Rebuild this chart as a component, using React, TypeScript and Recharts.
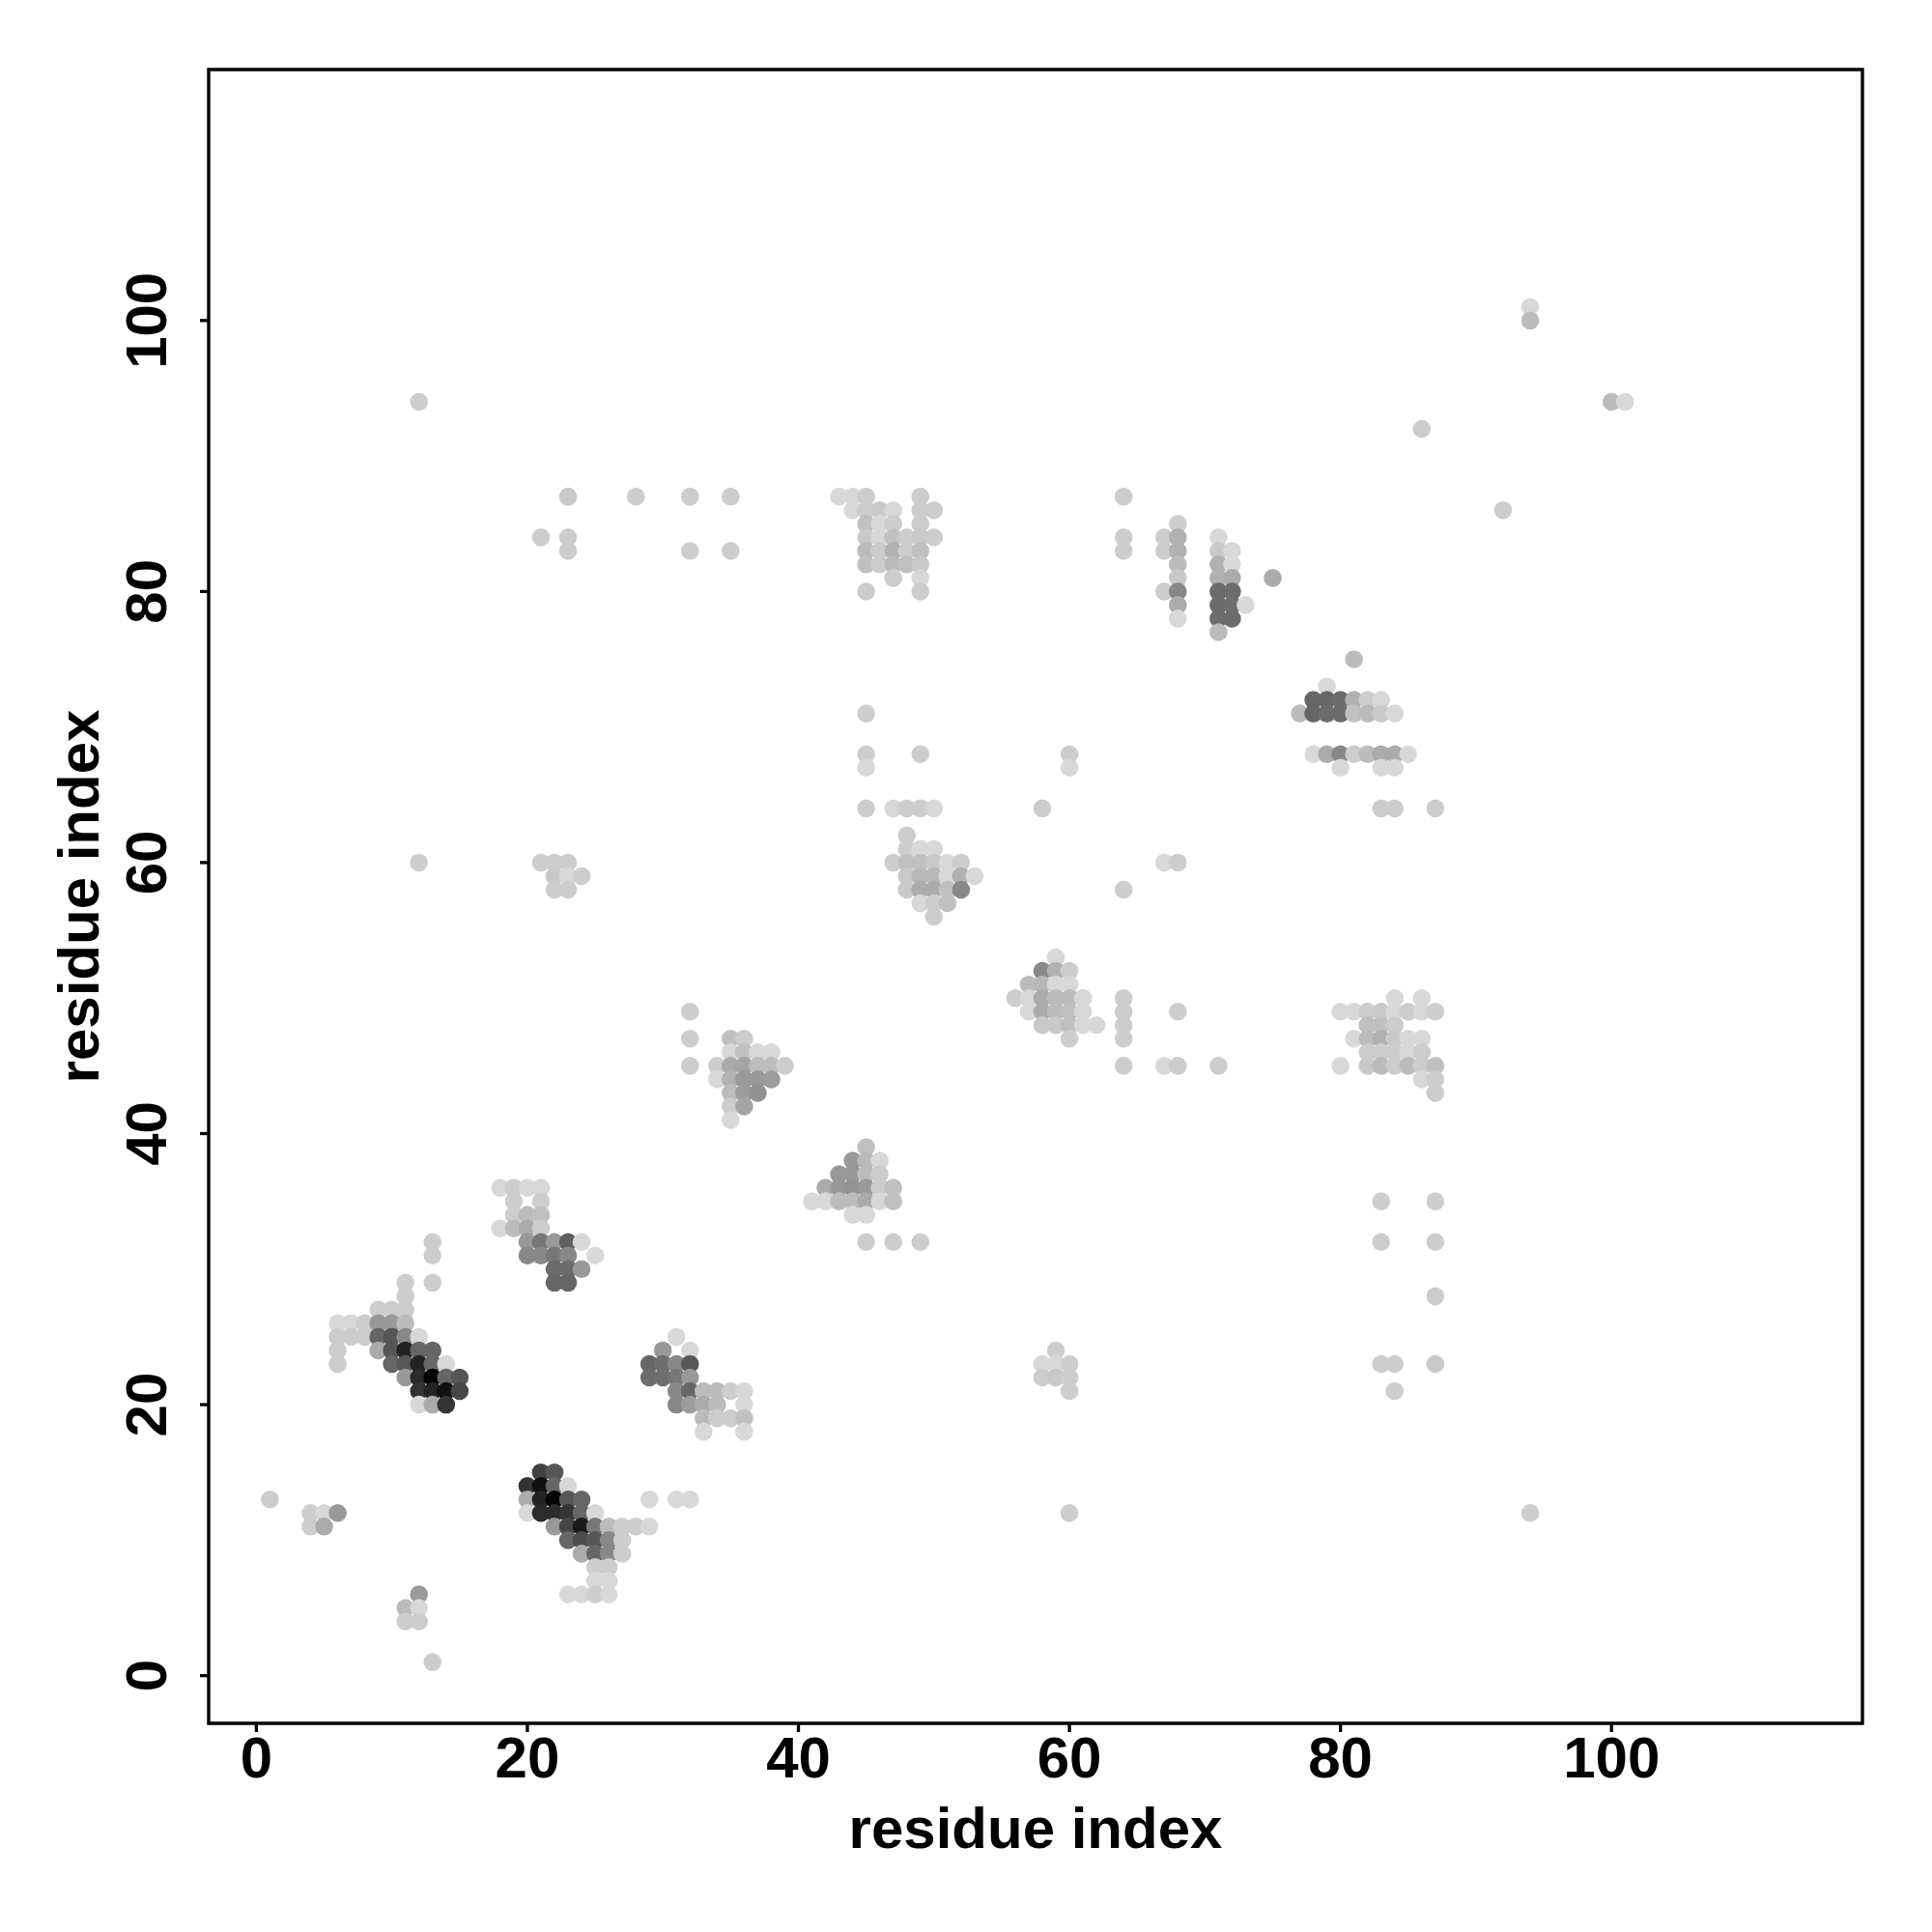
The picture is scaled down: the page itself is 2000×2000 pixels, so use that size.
import React from 'react';
import { ScatterChart, Scatter, XAxis, YAxis, ReferenceArea } from 'recharts';

// contact frequencies: [residue i, residue j, frequency]
type Pt = [number, number, number];

const isolatedLow: Pt[] = [
  [1, 13, 0.05], [4, 12, 0.05], [5, 12, 0], [6, 12, 0.29], [4, 11, 0.05], [5, 11, 0.21],
  [12, 6, 0.29], [11, 5, 0.13], [12, 5, 0], [11, 4, 0.05], [12, 4, 0.05], [13, 1, 0.05],
];

const helixA: Pt[] = [
  [13, 32, 0.05], [13, 31, 0.05], [11, 29, 0.05], [13, 29, 0.05], [11, 28, 0.05],
  [9, 27, 0.05], [10, 27, 0.05], [11, 27, 0.05],
  [6, 26, 0], [7, 26, 0], [8, 26, 0.05], [9, 26, 0.29], [10, 26, 0.29], [11, 26, 0.13],
  [6, 25, 0.05], [7, 25, 0.05], [8, 25, 0.05], [9, 25, 0.53], [10, 25, 0.6], [11, 25, 0.37], [12, 25, 0],
  [6, 24, 0.05], [9, 24, 0.21], [10, 24, 0.6], [11, 24, 0.84], [12, 24, 0.53], [13, 24, 0.53],
  [6, 23, 0.05], [10, 23, 0.53], [11, 23, 0.6], [12, 23, 0.84], [13, 23, 0.53], [14, 23, 0],
  [11, 22, 0.29], [12, 22, 0.8], [13, 22, 0.98], [14, 22, 0.53], [15, 22, 0.6],
  [12, 21, 0.76], [13, 21, 0.84], [14, 21, 0.92], [15, 21, 0.68],
  [12, 20, 0], [13, 20, 0.21], [14, 20, 0.76],
];

const block20x32: Pt[] = [
  [18, 36, 0], [19, 36, 0.05], [20, 36, 0], [21, 36, 0],
  [19, 35, 0.05], [21, 35, 0.05],
  [19, 34, 0.05], [20, 34, 0.13], [21, 34, 0.11],
  [18, 33, 0], [19, 33, 0.13], [20, 33, 0.21], [21, 33, 0.05],
  [20, 32, 0.29], [21, 32, 0.45], [22, 32, 0.29], [23, 32, 0.55], [24, 32, 0],
  [20, 31, 0.37], [21, 31, 0.37], [22, 31, 0.45], [23, 31, 0.37], [25, 31, 0],
  [22, 30, 0.5], [23, 30, 0.5], [24, 30, 0.29],
  [22, 29, 0.53], [23, 29, 0.53],
];

const block31x22: Pt[] = [
  [31, 25, 0], [30, 24, 0.29], [32, 24, 0],
  [29, 23, 0.53], [30, 23, 0.49], [31, 23, 0.37], [32, 23, 0.6],
  [29, 22, 0.5], [30, 22, 0.49], [31, 22, 0.45], [32, 22, 0.29],
  [31, 21, 0.37], [32, 21, 0.53], [33, 21, 0.13], [34, 21, 0.13], [35, 21, 0.05], [36, 21, 0],
  [31, 20, 0.37], [32, 20, 0.28], [33, 20, 0.21], [34, 20, 0.13], [36, 20, 0],
  [33, 19, 0.13], [34, 19, 0.05], [35, 19, 0.05], [36, 19, 0.11],
  [33, 18, 0], [36, 18, 0],
];

const strandPair: Pt[] = [
  [21, 15, 0.7], [22, 15, 0.6],
  [20, 14, 0.76], [21, 14, 0.92], [22, 14, 0.53], [23, 14, 0],
  [20, 13, 0.21], [21, 13, 0.84], [22, 13, 0.98], [23, 13, 0.6], [24, 13, 0.53],
  [29, 13, 0], [31, 13, 0], [32, 13, 0],
  [20, 12, 0], [21, 12, 0.8], [22, 12, 0.8], [23, 12, 0.76], [24, 12, 0.53], [25, 12, 0],
  [22, 11, 0.29], [23, 11, 0.68], [24, 11, 0.88], [25, 11, 0.45], [26, 11, 0.13], [27, 11, 0.05], [28, 11, 0.05], [29, 11, 0],
  [23, 10, 0.53], [24, 10, 0.65], [25, 10, 0.6], [26, 10, 0.37], [27, 10, 0.05],
  [24, 9, 0.21], [25, 9, 0.53], [26, 9, 0.37], [27, 9, 0.05],
  [25, 8, 0.05], [26, 8, 0.05],
  [25, 7, 0], [26, 7, 0],
  [23, 6, 0], [24, 6, 0], [25, 6, 0.05], [26, 6, 0],
];

const block36x45: Pt[] = [
  [32, 49, 0.05], [32, 47, 0.05], [32, 45, 0.05],
  [35, 47, 0.11], [36, 47, 0.05],
  [35, 46, 0], [36, 46, 0.11], [37, 46, 0], [38, 46, 0],
  [34, 45, 0.05], [35, 45, 0.21], [36, 45, 0.24], [37, 45, 0.13], [38, 45, 0.13], [39, 45, 0.05],
  [34, 44, 0], [35, 44, 0.18], [36, 44, 0.29], [37, 44, 0.29], [38, 44, 0.28],
  [35, 43, 0.13], [36, 43, 0.28], [37, 43, 0.33],
  [35, 42, 0.05], [36, 42, 0.24],
  [35, 41, 0],
];

const block45x36: Pt[] = [
  [45, 39, 0.11],
  [44, 38, 0.29], [45, 38, 0.14], [46, 38, 0],
  [43, 37, 0.29], [44, 37, 0.29], [45, 37, 0.13], [46, 37, 0.05],
  [42, 36, 0.21], [43, 36, 0.29], [44, 36, 0.32], [45, 36, 0.29], [46, 36, 0.05], [47, 36, 0.11],
  [41, 35, 0], [42, 35, 0], [43, 35, 0.13], [44, 35, 0.13], [45, 35, 0.21], [46, 35, 0], [47, 35, 0.11],
  [44, 34, 0], [45, 34, 0],
  [45, 32, 0.05], [47, 32, 0.05], [49, 32, 0.05],
];

const block50x60: Pt[] = [
  [45, 71, 0.05], [45, 68, 0.05], [45, 67, 0], [49, 68, 0.05], [60, 68, 0.05], [60, 67, 0],
  [45, 64, 0.05], [47, 64, 0], [48, 64, 0.05], [49, 64, 0.05], [50, 64, 0], [58, 64, 0.05],
  [48, 62, 0.05],
  [48, 61, 0.05], [49, 61, 0], [50, 61, 0],
  [47, 60, 0.05], [48, 60, 0.11], [49, 60, 0.11], [50, 60, 0.07], [51, 60, 0], [52, 60, 0.05],
  [48, 59, 0.07], [49, 59, 0.15], [50, 59, 0.15], [51, 59, 0], [52, 59, 0.18], [53, 59, 0],
  [48, 58, 0.07], [49, 58, 0.21], [50, 58, 0.21], [51, 58, 0.11], [52, 58, 0.37],
  [49, 57, 0], [50, 57, 0.05], [51, 57, 0.11],
  [50, 56, 0.05],
];

const block59x50: Pt[] = [
  [59, 53, 0],
  [58, 52, 0.37], [59, 52, 0.18], [60, 52, 0.05],
  [57, 51, 0.13], [58, 51, 0.15], [59, 51, 0], [60, 51, 0],
  [56, 50, 0.05], [57, 50, 0], [58, 50, 0.21], [59, 50, 0.13], [60, 50, 0.13], [61, 50, 0],
  [57, 49, 0], [58, 49, 0.21], [59, 49, 0.13], [60, 49, 0.11], [61, 49, 0],
  [58, 48, 0.07], [59, 48, 0.07], [60, 48, 0.11], [61, 48, 0], [62, 48, 0],
  [60, 47, 0.05],
];

const column64: Pt[] = [
  [64, 50, 0.05], [64, 49, 0.05], [64, 48, 0.05], [64, 47, 0.05], [64, 45, 0.05],
  [67, 45, 0], [68, 45, 0.05], [71, 45, 0.05], [68, 49, 0.05],
  [64, 58, 0.05], [67, 60, 0], [68, 60, 0.05],
];

const block80x70: Pt[] = [
  [81, 75, 0.13], [79, 73, 0],
  [78, 72, 0.53], [79, 72, 0.53], [80, 72, 0.5], [81, 72, 0.18], [82, 72, 0.05], [83, 72, 0],
  [77, 71, 0.13], [78, 71, 0.53], [79, 71, 0.5], [80, 71, 0.5], [81, 71, 0.11], [82, 71, 0.14], [83, 71, 0.07], [84, 71, 0],
  [78, 68, 0], [79, 68, 0.21], [80, 68, 0.37], [81, 68, 0.05], [82, 68, 0.13], [83, 68, 0.21], [84, 68, 0.21], [85, 68, 0],
  [80, 67, 0], [83, 67, 0], [84, 67, 0],
  [83, 64, 0.05], [84, 64, 0.05], [87, 64, 0.05],
];

const block84x47: Pt[] = [
  [84, 50, 0], [86, 50, 0],
  [80, 49, 0], [81, 49, 0], [82, 49, 0.05], [83, 49, 0.07], [84, 49, 0], [85, 49, 0.05], [86, 49, 0], [87, 49, 0.05],
  [82, 48, 0.11], [83, 48, 0.11], [84, 48, 0.05],
  [81, 47, 0], [82, 47, 0.13], [83, 47, 0.18], [84, 47, 0.07], [85, 47, 0], [86, 47, 0],
  [82, 46, 0.05], [83, 46, 0.05], [84, 46, 0.05], [85, 46, 0], [86, 46, 0.05],
  [80, 45, 0], [82, 45, 0.07], [83, 45, 0.13], [84, 45, 0.05], [85, 45, 0.13], [86, 45, 0.05], [87, 45, 0.11],
  [86, 44, 0], [87, 44, 0.05],
  [87, 43, 0.05],
];

const block47x84: Pt[] = [
  [43, 87, 0], [44, 87, 0], [45, 87, 0.05], [49, 87, 0.05],
  [44, 86, 0], [45, 86, 0.05], [46, 86, 0.07], [47, 86, 0], [49, 86, 0.05], [50, 86, 0.05],
  [45, 85, 0.11], [46, 85, 0], [47, 85, 0.05], [49, 85, 0.05],
  [45, 84, 0.07], [46, 84, 0], [47, 84, 0.11], [48, 84, 0.05], [49, 84, 0.07], [50, 84, 0.05],
  [45, 83, 0.13], [46, 83, 0.05], [47, 83, 0.18], [48, 83, 0.05], [49, 83, 0.11],
  [45, 82, 0.11], [46, 82, 0.05], [47, 82, 0.13], [48, 82, 0.11], [49, 82, 0.07],
  [47, 81, 0.05], [49, 81, 0],
  [45, 80, 0.05], [49, 80, 0.05],
];

const block70x80: Pt[] = [
  [64, 87, 0.05], [64, 84, 0.05], [64, 83, 0.05],
  [68, 85, 0.05],
  [67, 84, 0.05], [68, 84, 0.18], [67, 83, 0.05], [68, 83, 0.18],
  [68, 82, 0.13], [68, 81, 0.07], [67, 80, 0.05], [68, 80, 0.37], [68, 79, 0.21], [68, 78, 0],
  [71, 84, 0], [71, 83, 0.07], [72, 83, 0], [71, 82, 0.18], [72, 82, 0], [71, 81, 0.18], [72, 81, 0.21], [75, 81, 0.21],
  [71, 80, 0.5], [72, 80, 0.5], [71, 79, 0.5], [72, 79, 0.49], [73, 79, 0], [71, 78, 0.5], [72, 78, 0.5], [71, 77, 0.14],
];

const sparse: Pt[] = [
  [12, 94, 0.05], [12, 60, 0.05],
  [23, 87, 0.07], [28, 87, 0.05], [32, 87, 0.05], [35, 87, 0.05],
  [21, 84, 0.05], [23, 84, 0.05], [23, 83, 0.05], [32, 83, 0.05], [35, 83, 0.05],
  [21, 60, 0.05], [22, 60, 0.05], [23, 60, 0.05], [22, 59, 0.07], [23, 59, 0], [24, 59, 0.05], [22, 58, 0.05], [23, 58, 0.05],
  [83, 35, 0.05], [87, 35, 0.05], [83, 32, 0.05], [87, 32, 0.05], [87, 28, 0.05],
  [83, 23, 0.05], [84, 23, 0.05], [87, 23, 0.07], [84, 21, 0.05],
  [94, 12, 0.05], [60, 12, 0.05],
  [59, 24, 0.05], [58, 23, 0], [59, 23, 0], [60, 23, 0.05], [58, 22, 0.05], [59, 22, 0.07], [60, 22, 0.05], [60, 21, 0.05],
  [94, 101, 0], [94, 100, 0.13], [100, 94, 0.13], [101, 94, 0], [86, 92, 0.05], [92, 86, 0.05],
];

const axisTicks = [0, 20, 40, 60, 80, 100];
const axisDomain: [number, number] = [-3.52, 118.52];
const axisTitle = 'residue index';

const FONT = '"Liberation Sans", Arial, Helvetica, sans-serif';

const points = [
  ...isolatedLow, ...helixA, ...block20x32, ...block31x22, ...strandPair,
  ...block36x45, ...block45x36, ...block50x60, ...block59x50, ...column64,
  ...block80x70, ...block84x47, ...block47x84, ...block70x80, ...sparse,
].map(([x, y, p]) => ({ x, y, p }));

// higher frequency -> darker grey
const greyFor = (p: number) => {
  const g = Math.round(216 * (1 - p));
  return `rgb(${g},${g},${g})`;
};

const Dot = (props: any) => {
  const { cx, cy, payload } = props;
  if (cx == null || cy == null) return null;
  return <circle cx={cx} cy={cy} r={9.3} fill={greyFor(payload.p)} />;
};

const YTick = (props: any) => {
  const { x, y, payload } = props;
  return (
    <text
      x={x}
      y={y}
      transform={`rotate(-90, ${x}, ${y})`}
      textAnchor="middle"
      fontSize={60}
      fontWeight="bold"
      fontFamily={FONT}
      fill="#000"
    >
      {payload.value}
    </text>
  );
};

const XTitle = (props: any) => {
  const vb = props.viewBox;
  return (
    <text x={vb.x + vb.width / 2} y={vb.y + 129} textAnchor="middle" fontSize={60} fontWeight="bold" fontFamily={FONT} fill="#000">
      {axisTitle}
    </text>
  );
};

const YTitle = (props: any) => {
  const vb = props.viewBox;
  const cx = vb.x + 102;
  const cy = vb.y + vb.height / 2;
  return (
    <text x={cx} y={cy} transform={`rotate(-90, ${cx}, ${cy})`} textAnchor="middle" fontSize={60} fontWeight="bold" fontFamily={FONT} fill="#000">
      {axisTitle}
    </text>
  );
};

const App: React.FC = () => {
  return (
    <div style={{ position: 'absolute', left: 0, top: 0, width: 2000, height: 2000, background: '#fff' }}>
      <ScatterChart width={2000} height={2000} margin={{ top: 72, right: 72, left: 0, bottom: 116 }}>
        <XAxis
          type="number"
          dataKey="x"
          domain={axisDomain}
          ticks={axisTicks}
          allowDataOverflow
          height={100}
          axisLine={false}
          tickSize={9}
          tickMargin={4}
          tickLine={{ stroke: '#000', strokeWidth: 3.3 }}
          tick={{ fill: '#000', fontSize: 60, fontWeight: 'bold', fontFamily: FONT }}
          label={{ content: XTitle }}
        />
        <YAxis
          type="number"
          dataKey="y"
          domain={axisDomain}
          ticks={axisTicks}
          allowDataOverflow
          width={216}
          axisLine={false}
          tickSize={9}
          tickMargin={35}
          tickLine={{ stroke: '#000', strokeWidth: 3.3 }}
          tick={<YTick />}
          label={{ content: YTitle }}
        />
        <ReferenceArea
          x1={axisDomain[0]}
          x2={axisDomain[1]}
          y1={axisDomain[0]}
          y2={axisDomain[1]}
          fill="none"
          stroke="#000"
          strokeWidth={3.4}
          ifOverflow="visible"
        />
        <Scatter data={points} shape={<Dot />} isAnimationActive={false} />
      </ScatterChart>
    </div>
  );
};

export default App;
